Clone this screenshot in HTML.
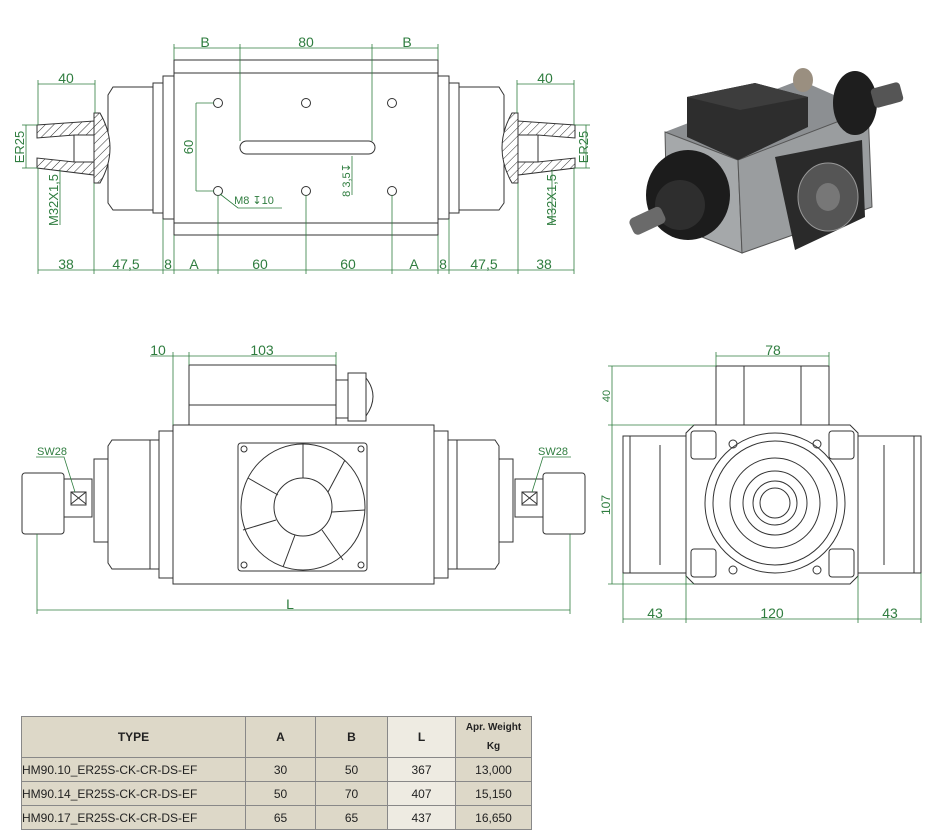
<!DOCTYPE html>
<html><head><meta charset="utf-8"><style>
body{margin:0;background:#fff}
svg{display:block}
text{font-family:"Liberation Sans",sans-serif}
.l{fill:none;stroke:#333;stroke-width:1}
.d{fill:none;stroke:#2f7d3f;stroke-width:0.8}
.g{fill:#2f7d3f;font-size:14px}
.h{fill:url(#hat);stroke:#333;stroke-width:1}
td,th{font-family:"Liberation Sans",sans-serif}
</style></head><body>
<svg width="935" height="835" viewBox="0 0 935 835">
<defs>
<pattern id="hat" width="6" height="6" patternUnits="userSpaceOnUse" patternTransform="rotate(45)"><rect width="6" height="6" fill="#fff"/><line x1="0" y1="0" x2="0" y2="6" stroke="#333" stroke-width="1"/></pattern>
</defs>

<g id="tv">
<rect class="l" x="174" y="60" width="264" height="175"/>
<line class="l" x1="174" y1="73" x2="438" y2="73"/><line class="l" x1="174" y1="223" x2="438" y2="223"/>
<rect class="l" x="163" y="76" width="11" height="143"/>
<rect class="l" x="438" y="76" width="11" height="143"/>
<rect class="l" x="153" y="83" width="10" height="130" fill="#fff"/>
<rect class="l" x="449" y="83" width="10" height="130"/>
<path class="l" d="M153 87 L113 87 L108 95 L108 203 L113 210 L153 210"/>
<path class="l" d="M459 87 L499 87 L504 95 L504 203 L499 210 L459 210"/>
<path class="h" d="M94 113 L100 113 Q120 148 100 183 L94 183 Z"/>
<path class="h" d="M37 125 L94 121 L94 135 L74 135 L74 162 L94 162 L94 175 L37 168 L37 158 L74 162 L74 135 L37 138 Z"/>
<rect class="l" x="74" y="135" width="20" height="27" fill="#fff"/>
<path class="h" d="M518 113 L512 113 Q492 148 512 183 L518 183 Z"/>
<path class="h" d="M575 125 L518 121 L518 135 L538 135 L538 162 L518 162 L518 175 L575 168 L575 158 L538 162 L538 135 L575 138 Z"/>
<rect class="l" x="518" y="135" width="20" height="27" fill="#fff"/>
<g class="l" stroke-width="1.5"><circle cx="218" cy="103" r="4.5"/><circle cx="306" cy="103" r="4.5"/><circle cx="392" cy="103" r="4.5"/><circle cx="218" cy="191" r="4.5"/><circle cx="306" cy="191" r="4.5"/><circle cx="392" cy="191" r="4.5"/></g>
<rect class="l" x="240" y="141" width="135" height="13" rx="6.5"/>
<g class="d">
<line x1="174" y1="48" x2="438" y2="48"/><line x1="174" y1="44" x2="174" y2="60"/><line x1="240" y1="44" x2="240" y2="141"/><line x1="372" y1="44" x2="372" y2="141"/><line x1="438" y1="44" x2="438" y2="60"/>
<line x1="38" y1="84" x2="95" y2="84"/><line x1="38" y1="80" x2="38" y2="125"/><line x1="95" y1="80" x2="95" y2="113"/>
<line x1="517" y1="84" x2="574" y2="84"/><line x1="574" y1="80" x2="574" y2="125"/><line x1="517" y1="80" x2="517" y2="113"/>
<line x1="26" y1="125" x2="26" y2="168"/><line x1="22" y1="125" x2="37" y2="125"/><line x1="22" y1="168" x2="37" y2="168"/>
<line x1="586" y1="125" x2="586" y2="168"/><line x1="575" y1="125" x2="590" y2="125"/><line x1="575" y1="168" x2="590" y2="168"/>
<line x1="60" y1="170" x2="60" y2="225"/><line x1="552" y1="170" x2="552" y2="225"/>
<line x1="196" y1="103" x2="196" y2="191"/><line x1="196" y1="103" x2="214" y2="103"/><line x1="196" y1="191" x2="214" y2="191"/>
<line x1="352" y1="156" x2="352" y2="195"/>
<path d="M220 194 L238 208 L282 208"/>
<line x1="38" y1="270" x2="574" y2="270"/>
<line x1="38" y1="168" x2="38" y2="274"/><line x1="94" y1="183" x2="94" y2="274"/><line x1="163" y1="219" x2="163" y2="274"/><line x1="174" y1="235" x2="174" y2="274"/>
<line x1="218" y1="195" x2="218" y2="274"/><line x1="306" y1="195" x2="306" y2="274"/><line x1="392" y1="195" x2="392" y2="274"/>
<line x1="438" y1="235" x2="438" y2="274"/><line x1="449" y1="219" x2="449" y2="274"/><line x1="518" y1="183" x2="518" y2="274"/><line x1="574" y1="168" x2="574" y2="274"/>
</g>
<g class="g" text-anchor="middle">
<text x="205" y="47">B</text><text x="306" y="47">80</text><text x="407" y="47">B</text>
<text x="66" y="83">40</text><text x="545" y="83">40</text>
<text x="66" y="269">38</text><text x="126" y="269">47,5</text><text x="168" y="269">8</text><text x="194" y="269">A</text><text x="260" y="269">60</text><text x="348" y="269">60</text><text x="414" y="269">A</text><text x="443" y="269">8</text><text x="484" y="269">47,5</text><text x="544" y="269">38</text>
<text transform="translate(24,147) rotate(-90)" font-size="13">ER25</text>
<text transform="translate(588,147) rotate(-90)" font-size="13">ER25</text>
<text transform="translate(58,200) rotate(-90)" font-size="13">M32X1,5</text>
<text transform="translate(556,200) rotate(-90)" font-size="13">M32X1,5</text>
<text transform="translate(193,147) rotate(-90)" font-size="13">60</text>
<text transform="translate(350,180) rotate(-90)" font-size="11">8 3,5↧</text>
<text x="254" y="204" font-size="11">M8 ↧10</text>
</g>
</g>

<g>
<polygon points="665,132 800,80 868,110 738,160" fill="#8c8f92"/>
<polygon points="665,132 738,160 742,253 667,223" fill="#a5a8aa" stroke="#555"/>
<polygon points="738,160 868,110 872,207 742,253" fill="#9a9d9f" stroke="#555"/>
<polygon points="687,97 755,83 808,97 808,127 738,160 687,137" fill="#2d2d2d"/>
<polygon points="687,97 755,83 808,97 740,110" fill="#3d3d3d"/>
<ellipse cx="803" cy="80" rx="10" ry="12" fill="#9a8f80"/>
<ellipse cx="855" cy="103" rx="22" ry="32" fill="#1e1e1e"/>
<rect x="872" y="85" width="30" height="20" rx="4" fill="#555" transform="rotate(-15 887 95)"/>
<ellipse cx="688" cy="195" rx="42" ry="45" fill="#1c1c1c"/>
<ellipse cx="680" cy="205" rx="25" ry="25" fill="#2e2e2e"/>
<rect x="630" y="212" width="35" height="18" rx="5" fill="#6a6a6a" transform="rotate(-25 647 221)"/>
<polygon points="775,157 862,140 865,217 795,250" fill="#2a2a2a"/>
<ellipse cx="828" cy="197" rx="30" ry="34" fill="#555" stroke="#999"/>
<ellipse cx="828" cy="197" rx="12" ry="14" fill="#777"/>
</g>

<g>
<rect class="l" x="173" y="425" width="261" height="159"/>
<rect class="l" x="189" y="365" width="147" height="60"/>
<line class="l" x1="189" y1="405" x2="336" y2="405"/>
<rect class="l" x="336" y="380" width="12" height="38"/>
<rect class="l" x="348" y="373" width="18" height="48"/>
<path class="l" d="M366 378 Q380 396 366 416"/>
<rect class="l" x="238" y="443" width="129" height="128" rx="3"/>
<ellipse class="l" cx="303" cy="507" rx="62" ry="63"/>
<ellipse class="l" cx="303" cy="507" rx="29" ry="29"/>
<g class="l"><path d="M303 444 L303 478 M345 460 L328 492 M365 510 L332 512 M343 560 L322 530 M283 567 L295 535 M243 530 L276 520 M248 478 L278 495"/></g>
<g class="l"><circle cx="244" cy="449" r="3"/><circle cx="361" cy="449" r="3"/><circle cx="244" cy="565" r="3"/><circle cx="361" cy="565" r="3"/></g>
<rect class="l" x="159" y="431" width="14" height="147"/>
<rect class="l" x="434" y="431" width="14" height="147"/>
<rect class="l" x="150" y="440" width="9" height="129"/>
<rect class="l" x="448" y="440" width="9" height="129"/>
<path class="l" d="M150 440 L112 440 L108 446 L108 563 L112 569 L150 569"/>
<path class="l" d="M457 440 L495 440 L499 446 L499 563 L495 569 L457 569"/>
<rect class="l" x="94" y="459" width="14" height="83"/>
<rect class="l" x="499" y="459" width="14" height="83"/>
<rect class="l" x="64" y="479" width="28" height="38"/>
<rect class="l" x="515" y="479" width="28" height="38"/>
<path class="l" d="M71 492 L86 504 M86 492 L71 504"/><rect class="l" x="71" y="492" width="15" height="13"/>
<path class="l" d="M522 492 L537 504 M537 492 L522 504"/><rect class="l" x="522" y="492" width="15" height="13"/>
<rect class="l" x="22" y="473" width="42" height="61" rx="3"/>
<rect class="l" x="543" y="473" width="42" height="61" rx="3"/>
<g class="d">
<line x1="173" y1="356" x2="336" y2="356"/><line x1="150" y1="356" x2="173" y2="356"/><line x1="173" y1="352" x2="173" y2="425"/><line x1="189" y1="352" x2="189" y2="365"/><line x1="336" y1="352" x2="336" y2="365"/>
<line x1="37" y1="610" x2="570" y2="610"/><line x1="37" y1="534" x2="37" y2="614"/><line x1="570" y1="534" x2="570" y2="614"/>
<path d="M36 457 L64 457 L75 492"/><path d="M571 457 L543 457 L532 492"/>
</g>
<g class="g" text-anchor="middle">
<text x="158" y="355">10</text><text x="262" y="355">103</text><text x="290" y="609">L</text>
<text x="52" y="455" font-size="11">SW28</text><text x="553" y="455" font-size="11">SW28</text>
</g>
</g>

<g>
<rect class="l" x="716" y="366" width="113" height="59"/>
<line class="l" x1="744" y1="366" x2="744" y2="425"/><line class="l" x1="801" y1="366" x2="801" y2="425"/>
<path class="l" d="M694 425 L850 425 L858 433 L858 576 L850 584 L694 584 L686 576 L686 433 Z"/>
<rect class="l" x="623" y="436" width="63" height="137"/>
<rect class="l" x="858" y="436" width="63" height="137"/>
<line class="l" x1="630" y1="436" x2="630" y2="573"/><line class="l" x1="914" y1="436" x2="914" y2="573"/>
<line class="l" x1="660" y1="445" x2="660" y2="565"/><line class="l" x1="884" y1="445" x2="884" y2="565"/>
<circle class="l" cx="775" cy="503" r="70"/>
<circle class="l" cx="775" cy="503" r="62"/>
<circle class="l" cx="775" cy="503" r="45"/>
<circle class="l" cx="775" cy="503" r="32"/>
<circle class="l" cx="775" cy="503" r="22"/>
<circle class="l" cx="775" cy="503" r="15"/>
<g class="l"><rect x="691" y="431" width="25" height="28" rx="3"/><rect x="829" y="431" width="25" height="28" rx="3"/><rect x="691" y="549" width="25" height="28" rx="3"/><rect x="829" y="549" width="25" height="28" rx="3"/>
<circle cx="733" cy="444" r="4"/><circle cx="817" cy="444" r="4"/><circle cx="733" cy="570" r="4"/><circle cx="817" cy="570" r="4"/></g>
<g class="d">
<line x1="716" y1="356" x2="829" y2="356"/><line x1="716" y1="352" x2="716" y2="366"/><line x1="829" y1="352" x2="829" y2="366"/>
<line x1="612" y1="366" x2="612" y2="584"/><line x1="608" y1="366" x2="716" y2="366"/><line x1="608" y1="425" x2="694" y2="425"/><line x1="608" y1="584" x2="694" y2="584"/>
<line x1="623" y1="619" x2="921" y2="619"/><line x1="623" y1="573" x2="623" y2="623"/><line x1="686" y1="576" x2="686" y2="623"/><line x1="858" y1="576" x2="858" y2="623"/><line x1="921" y1="573" x2="921" y2="623"/>
</g>
<g class="g" text-anchor="middle">
<text x="773" y="355">78</text><text x="655" y="618">43</text><text x="772" y="618">120</text><text x="890" y="618">43</text>
<text transform="translate(610,396) rotate(-90)" font-size="11">40</text>
<text transform="translate(610,505) rotate(-90)" font-size="12">107</text>
</g>
</g>
</svg>
<table style="position:absolute;left:21px;top:716px;border-collapse:collapse;font-size:12px;color:#222;table-layout:fixed;width:510px">
<colgroup><col style="width:224px"><col style="width:70px"><col style="width:72px"><col style="width:68px"><col style="width:76px"></colgroup>
<tr style="background:#ddd8c8;height:41px;font-weight:bold">
<th style="border:1px solid #888;padding:0">TYPE</th>
<th style="border:1px solid #888;padding:0">A</th>
<th style="border:1px solid #888;padding:0">B</th>
<th style="border:1px solid #888;padding:0;background:#eeebe2">L</th>
<th style="border:1px solid #888;padding:0;font-size:10px;line-height:19px">Apr. Weight<br>Kg</th></tr>
<tr style="background:#ddd8c8;height:24px;text-align:center"><td style="border:1px solid #888;text-align:left;padding:0;white-space:nowrap">HM90.10_ER25S-CK-CR-DS-EF</td><td style="border:1px solid #888;padding:0">30</td><td style="border:1px solid #888;padding:0">50</td><td style="border:1px solid #888;padding:0;background:#eeebe2">367</td><td style="border:1px solid #888;padding:0">13,000</td></tr>
<tr style="background:#ddd8c8;height:24px;text-align:center"><td style="border:1px solid #888;text-align:left;padding:0;white-space:nowrap">HM90.14_ER25S-CK-CR-DS-EF</td><td style="border:1px solid #888;padding:0">50</td><td style="border:1px solid #888;padding:0">70</td><td style="border:1px solid #888;padding:0;background:#eeebe2">407</td><td style="border:1px solid #888;padding:0">15,150</td></tr>
<tr style="background:#ddd8c8;height:24px;text-align:center"><td style="border:1px solid #888;text-align:left;padding:0;white-space:nowrap">HM90.17_ER25S-CK-CR-DS-EF</td><td style="border:1px solid #888;padding:0">65</td><td style="border:1px solid #888;padding:0">65</td><td style="border:1px solid #888;padding:0;background:#eeebe2">437</td><td style="border:1px solid #888;padding:0">16,650</td></tr>
</table>
</body></html>
